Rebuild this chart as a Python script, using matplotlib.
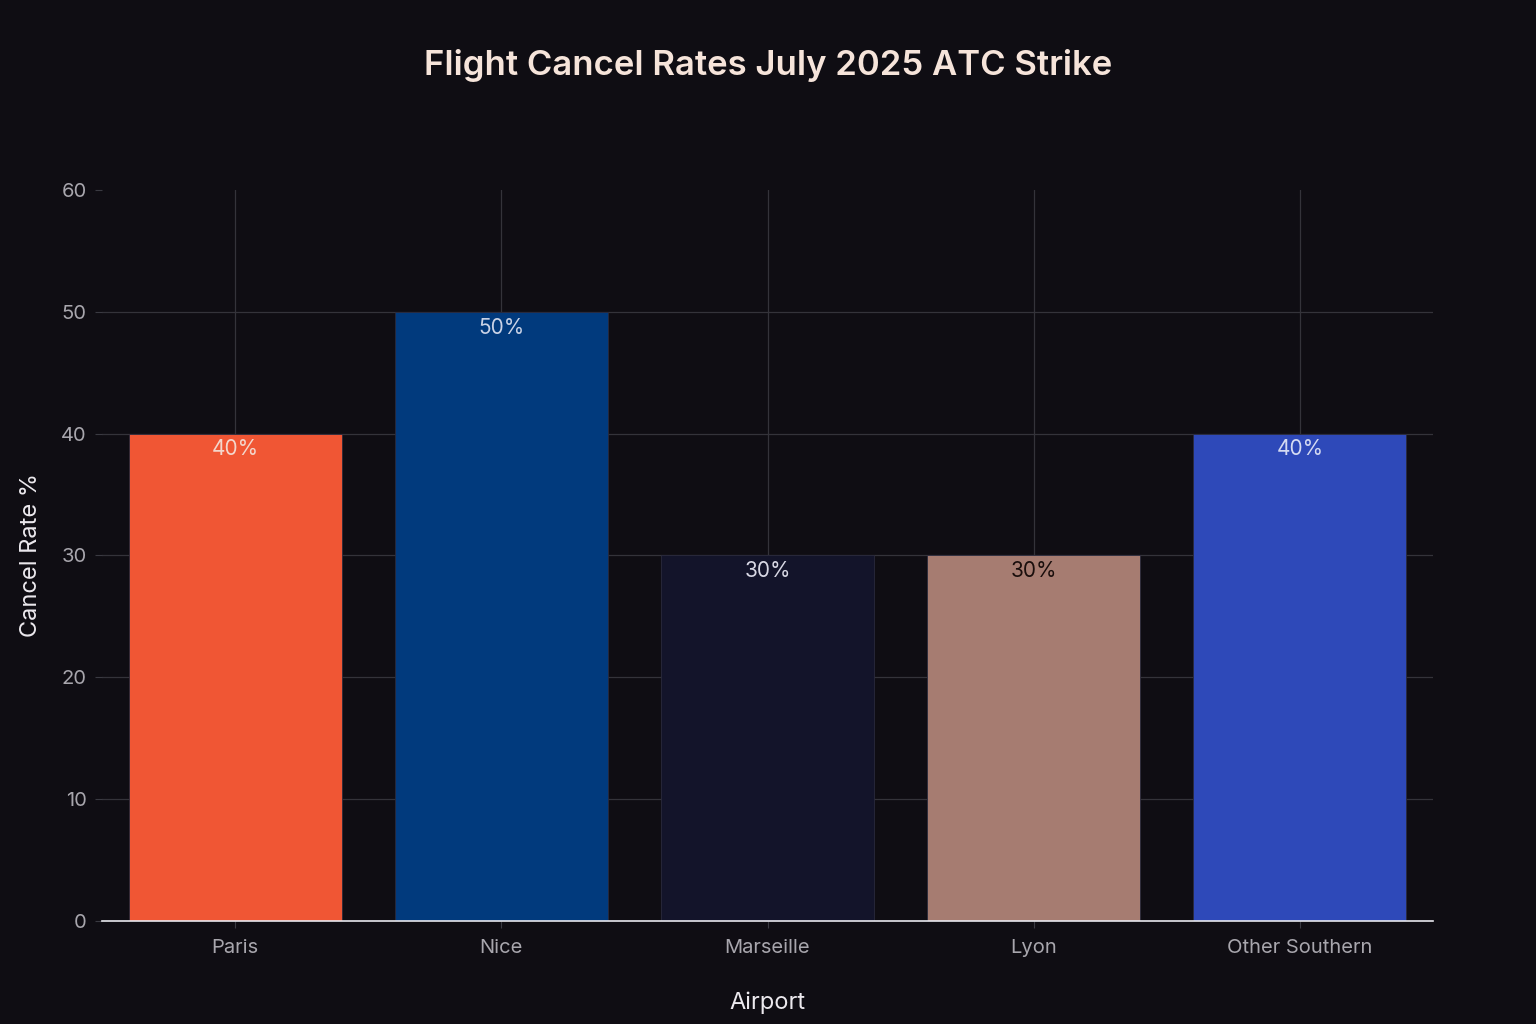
import matplotlib
matplotlib.use("Agg")
import matplotlib.pyplot as plt
import numpy as np

airports = ["Paris", "Nice", "Marseille", "Lyon", "Other Southern"]
cancel_rates = [40, 50, 30, 30, 40]
bar_colors = ["#F05634", "#013A7D", "#13142A", "#A67C71", "#2E49B9"]
label_colors = ["#F3D6CC", "#C9D2E6", "#D8D8E4", "#1A0E0C", "#D4DAF2"]
y_ticks = [0, 10, 20, 30, 40, 50, 60]

bg = "#0F0D13"
plt.rcParams["font.family"] = ["Inter", "DejaVu Sans"]

fig = plt.figure(figsize=(15.36, 10.24), dpi=100, facecolor=bg)
ax = fig.add_axes([0.0664, 0.1006, 0.8666, 0.7139])
ax.set_facecolor(bg)

x = np.arange(len(airports))
bars = ax.bar(x, cancel_rates, width=0.8, color=bar_colors, edgecolor="#2a2a3c",
              linewidth=0.6, zorder=3)

# value labels just inside the top of each bar
for b, v, c in zip(bars, cancel_rates, label_colors):
    ax.text(b.get_x() + b.get_width() / 2, v - 1.3, f"{v}%", ha="center", va="center",
            fontsize=15, color=c, zorder=4)

ax.set_xlim(-0.5, len(airports) - 0.5)
ax.set_ylim(0, 60)
ax.set_yticks(y_ticks)
ax.set_xticks(x)
ax.set_xticklabels(airports)

ax.grid(True, color="#34333a", linewidth=0.9, zorder=0)
ax.yaxis.get_gridlines()[-1].set_visible(False)
for s in ["top", "right", "left"]:
    ax.spines[s].set_visible(False)
ax.spines["bottom"].set_color("#e8e8ee")
ax.spines["bottom"].set_linewidth(1.2)
ax.spines["bottom"].set_zorder(5)

ax.tick_params(axis="both", colors="#3a3a42", labelcolor="#a8a6ad", labelsize=14.5, length=5)
ax.tick_params(axis="x", pad=8)
ax.tick_params(axis="y", pad=6)

ax.set_xlabel("Airport", fontsize=17, color="#ece9ee", labelpad=25)
ax.set_ylabel("Cancel Rate %", fontsize=17, color="#ece9ee", labelpad=14)

fig.suptitle("Flight Cancel Rates July 2025 ATC Strike", x=0.5, y=0.952,
             fontsize=25, color="#F6E4DA", fontweight="semibold")

fig.savefig("out.png", dpi=100, facecolor=bg)
